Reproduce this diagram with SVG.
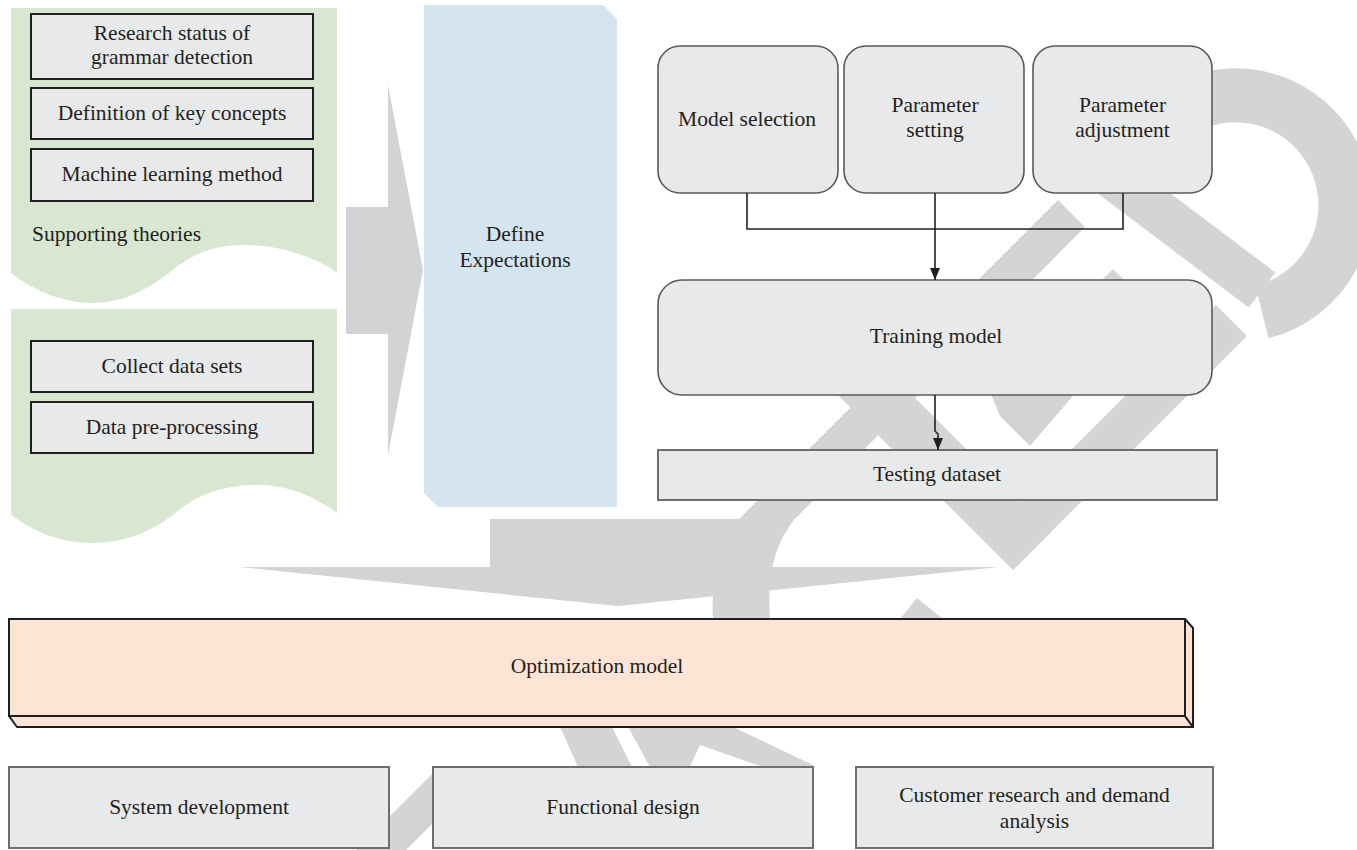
<svg xmlns="http://www.w3.org/2000/svg" width="1357" height="850" viewBox="0 0 1357 850">
<defs>
<style>
.wm{fill:#d4d4d4}
.wms{fill:none;stroke:#d4d4d4}
.garrow{fill:#d1d3d4}
.sbox{fill:#e8e9ea;stroke:#231f20;stroke-width:2}
.rbox{fill:#e8e9ea;stroke:#58595b;stroke-width:1.6}
.gbox{fill:#e8e9ea;stroke:#6d6e71;stroke-width:2}
.t{font-family:"Liberation Serif","Times New Roman",serif;font-size:21.5px;fill:#231f20;text-anchor:middle}
.tl{text-anchor:start}
.conn{fill:none;stroke:#231f20;stroke-width:1.6}
</style>
<marker id="ah" viewBox="0 0 12 10" refX="12" refY="5" markerWidth="12" markerHeight="10" markerUnits="userSpaceOnUse" orient="auto">
<path d="M0,0 L12,5 L0,10 Z" fill="#231f20"/>
</marker>
</defs>
<rect width="1357" height="850" fill="#ffffff"/>

<g id="watermark">
<path class="wms" stroke-width="54" d="M1188,106 A110,110 0 1 1 1262,312"/>
<line class="wms" stroke-width="44" x1="1090" y1="160" x2="1262" y2="290"/>
<path class="wm" d="M1058,200 L1085,227 L794,520 C770,550 768,585 770,619 L713,619 C711,585 718,548 740,518 Z"/>
<polygon class="wm" points="823,380 897,380 1050,533 1013,570"/>
<polygon class="wm" points="1013,570 1247,336 1216,305 1019,502"/>
<polygon class="wm" points="1113,269 1150,306 1030,446 1000,416 990,392"/>
<polygon class="wm" points="900,619 917,598 943,619"/>
<polygon class="wm" points="560,727 612,727 632,767 578,767"/>
<polygon class="wm" points="628,727 733,727 815,766 760,766 700,745 690,767 650,767"/>
<polygon class="wm" points="356,850 406,850 440,816 440,766"/>
</g>

<g id="arrow-right">
<polygon class="garrow" points="346,207 388,207 388,85 423,270 388,455 388,334 346,334"/>
</g>
<g id="arrow-down">
<polygon class="garrow" points="490,519 760,519 760,567 999,567 618,606 240,567 490,567"/>
</g>

<g id="panel-supporting">
<path fill="#d9e6d2" d="M11,8 H337 V273 C315,256 275,244 240,245 C205,246 185,260 170,272 C145,292 120,303 93,303 C60,303 30,288 11,273 Z"/>
<text class="t tl" x="32" y="241">Supporting theories</text>
</g>
<g id="n-research">
<rect class="sbox" x="31" y="14" width="282" height="65"/>
<text class="t" x="172" y="40">Research status of</text>
<text class="t" x="172" y="64">grammar detection</text>
</g>
<g id="n-definition">
<rect class="sbox" x="31" y="88" width="282" height="51"/>
<text class="t" x="172" y="120">Definition of key concepts</text>
</g>
<g id="n-ml">
<rect class="sbox" x="31" y="149" width="282" height="52"/>
<text class="t" x="172" y="181">Machine learning method</text>
</g>

<g id="panel-data">
<path fill="#d9e6d2" d="M11,309 H337 V513 C315,497 290,485 257,485 C215,485 190,500 173,515 C150,532 125,543 92,543 C60,543 35,532 11,515 Z"/>
</g>
<g id="n-collect">
<rect class="sbox" x="31" y="341" width="282" height="51"/>
<text class="t" x="172" y="373">Collect data sets</text>
</g>
<g id="n-preprocess">
<rect class="sbox" x="31" y="402" width="282" height="51"/>
<text class="t" x="172" y="434">Data pre-processing</text>
</g>

<g id="n-define">
<polygon fill="#d4e5ef" points="424,5 603,5 617,19 617,507 438,507 424,493"/>
<text class="t" x="515" y="241">Define</text>
<text class="t" x="515" y="267">Expectations</text>
</g>

<g id="n-model-selection">
<rect class="rbox" x="658" y="46" width="180" height="147" rx="22"/>
<text class="t" x="747" y="126">Model selection</text>
</g>
<g id="n-param-setting">
<rect class="rbox" x="844" y="46" width="180" height="147" rx="22"/>
<text class="t" x="935" y="112">Parameter</text>
<text class="t" x="935" y="137">setting</text>
</g>
<g id="n-param-adjust">
<rect class="rbox" x="1033" y="46" width="179" height="147" rx="22"/>
<text class="t" x="1122.5" y="112">Parameter</text>
<text class="t" x="1122.5" y="137">adjustment</text>
</g>
<g id="n-training">
<rect class="rbox" x="658" y="280" width="554" height="115" rx="24"/>
<text class="t" x="936" y="343">Training model</text>
</g>
<g id="n-testing">
<rect class="gbox" x="658" y="450" width="559" height="50"/>
<text class="t" x="937" y="481">Testing dataset</text>
</g>

<g id="connectors">
<path class="conn" d="M747,193 V229 H1123 V193"/>
<path class="conn" d="M935,193 V280" marker-end="url(#ah)"/>
<path class="conn" d="M935,395 V431 L938,434 V450" marker-end="url(#ah)"/>
</g>

<g id="n-optimization">
<polygon fill="#fde4d4" stroke="#231f20" stroke-width="2" stroke-linejoin="round" points="9,716 1185,716 1193,727 17,727"/>
<polygon fill="#fde4d4" stroke="#231f20" stroke-width="2" stroke-linejoin="round" points="1185,619 1193,628 1193,727 1185,716"/>
<rect fill="#fde4d4" stroke="#231f20" stroke-width="2" x="9" y="619" width="1176" height="97"/>
<text class="t" x="597" y="673">Optimization model</text>
</g>

<g id="n-system">
<rect class="gbox" x="9" y="767" width="380" height="81"/>
<text class="t" x="199" y="814">System development</text>
</g>
<g id="n-functional">
<rect class="gbox" x="433" y="767" width="380" height="81"/>
<text class="t" x="623" y="814">Functional design</text>
</g>
<g id="n-customer">
<rect class="gbox" x="856" y="767" width="357" height="81"/>
<text class="t" x="1034.5" y="802">Customer research and demand</text>
<text class="t" x="1034.5" y="828">analysis</text>
</g>
</svg>
